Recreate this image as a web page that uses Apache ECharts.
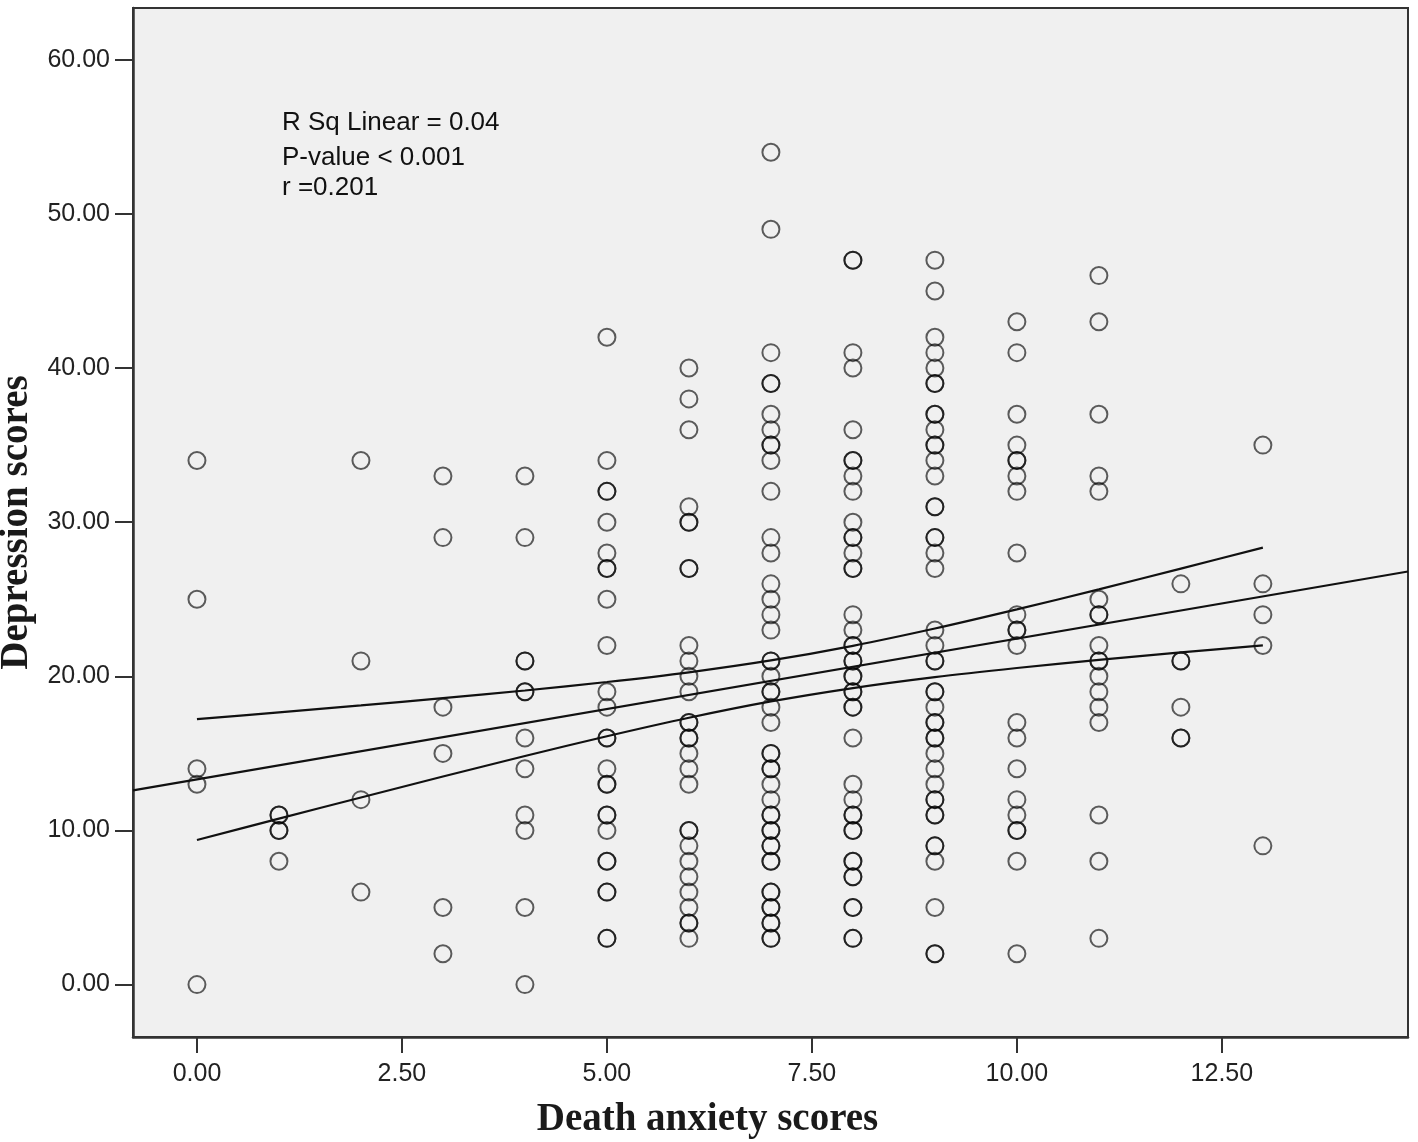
<!DOCTYPE html>
<html>
<head>
<meta charset="utf-8">
<title>Death anxiety vs depression</title>
<script src="https://cdn.jsdelivr.net/npm/echarts@6/dist/echarts.min.js"></script>
<style>
  html, body { margin: 0; padding: 0; background: #fff; }
  #chart { width: 1418px; height: 1142px; }
</style>
</head>
<body>
<div id="chart"></div>
<script>
// depression scores, one list per death anxiety score (duplicates = overlapping circles)
var dep0 = [34, 25, 14, 13, 0];
var dep1 = [11, 11, 10, 10, 8];
var dep2 = [34, 21, 12, 6];
var dep3 = [33, 29, 18, 15, 5, 2];
var dep4 = [33, 29, 21, 21, 19, 19, 16, 14, 11, 10, 5, 0];
var dep5 = [42, 34, 32, 32, 30, 28, 27, 27, 25, 22, 19, 18, 16, 16, 14, 13, 13, 11, 11, 10, 8, 8, 6, 6, 3, 3];
var dep6 = [40, 38, 36, 31, 30, 30, 27, 27, 22, 21, 20, 19, 17, 17, 16, 16, 15, 14, 13, 10, 10, 9, 8, 7, 6, 5, 4, 4, 3];
var dep7 = [54, 49, 41, 39, 39, 37, 36, 35, 35, 34, 32, 29, 28, 26, 25, 24, 23, 21, 21, 20, 19, 19, 18, 17,
            15, 15, 14, 14, 13, 12, 11, 11, 10, 10, 9, 9, 8, 8, 6, 6, 5, 5, 4, 4, 3, 3];
var dep8 = [47, 47, 41, 40, 36, 34, 34, 33, 32, 30, 29, 29, 28, 27, 27, 24, 23, 22, 22, 21, 21, 20, 20,
            19, 19, 18, 18, 16, 13, 12, 11, 11, 10, 10, 8, 8, 7, 7, 5, 5, 3, 3];
var dep9 = [47, 45, 42, 41, 40, 39, 39, 37, 37, 36, 35, 35, 34, 33, 31, 31, 29, 29, 28, 27, 23, 22, 21, 21,
            19, 19, 18, 17, 17, 16, 16, 15, 14, 13, 12, 12, 11, 11, 9, 9, 8, 5, 2, 2];
var dep10 = [43, 41, 37, 35, 34, 34, 33, 32, 28, 24, 23, 23, 22, 17, 16, 14, 12, 11, 10, 10, 8, 2];
var dep11 = [46, 43, 37, 33, 32, 25, 24, 24, 22, 21, 21, 20, 19, 18, 17, 11, 8, 3];
var dep12 = [26, 21, 21, 18, 16, 16];
var dep13 = [35, 26, 24, 22, 9];

var anxietyScores = [0, 1, 2, 3, 4, 5, 6, 7, 8, 9, 10, 11, 12, 13];
var depLists = [dep0, dep1, dep2, dep3, dep4, dep5, dep6, dep7, dep8, dep9, dep10, dep11, dep12, dep13];

// fitted line (across the whole axis) and 95% CI of the mean
var fitX = [-0.78, 14.77];
var fitY = [12.6, 26.8];
var ciUpper = [17.22, 17.66, 18.11, 18.59, 19.08, 19.63, 20.26, 21.03, 21.98, 23.10, 24.34, 25.64, 26.99, 28.35];
var ciLower = [9.38, 10.77, 12.14, 13.50, 14.83, 16.11, 17.31, 18.37, 19.24, 19.95, 20.54, 21.07, 21.55, 22.01];

var xTicks = [0, 2.5, 5, 7.5, 10, 12.5];
var yTicks = [0, 10, 20, 30, 40, 50, 60];

var points = [];
for (var i = 0; i < anxietyScores.length; i++) {
  for (var j = 0; j < depLists[i].length; j++) {
    points.push([anxietyScores[i], depLists[i][j]]);
  }
}
function pairs(xs, ys) {
  var out = [];
  for (var k = 0; k < xs.length; k++) out.push([xs[k], ys[k]]);
  return out;
}

var myChart = echarts.init(document.getElementById('chart'));
var tickFont = { fontFamily: 'Liberation Sans, Arial', fontSize: 25, color: '#222' };
var noteFont = '26px "Liberation Sans", Arial';

var option = {
  backgroundColor: '#fff',
  animation: false,
  grid: {
    left: 133, right: 10, top: 8, bottom: 105,
    containLabel: false,
    outerBoundsMode: 'none',
    show: true,
    backgroundColor: '#f0f0f0',
    borderColor: '#333',
    borderWidth: 2
  },
  xAxis: {
    type: 'value',
    min: -0.78,
    max: 14.77,
    name: 'Death anxiety scores',
    nameLocation: 'middle',
    nameGap: 63,
    nameTextStyle: {
      fontFamily: 'Liberation Serif, Times New Roman',
      fontWeight: 'bold',
      fontSize: 39,
      color: '#1a1a1a',
      padding: [0, 126, 0, 0]
    },
    axisLine: { show: true, onZero: false, lineStyle: { color: '#333', width: 2.5 } },
    axisTick: { show: true, length: 16, customValues: xTicks, lineStyle: { color: '#333', width: 2 } },
    axisLabel: Object.assign({
      margin: 25,
      customValues: xTicks,
      formatter: function (v) { return v.toFixed(2); }
    }, tickFont),
    splitLine: { show: false }
  },
  yAxis: {
    type: 'value',
    min: -3.4,
    max: 63.36,
    name: 'Depression scores',
    nameLocation: 'middle',
    nameGap: 89,
    nameTextStyle: {
      fontFamily: 'Liberation Serif, Times New Roman',
      fontWeight: 'bold',
      fontSize: 39,
      color: '#1a1a1a'
    },
    axisLine: { show: true, onZero: false, lineStyle: { color: '#333', width: 2.5 } },
    axisTick: { show: true, length: 18, customValues: yTicks, lineStyle: { color: '#333', width: 2 } },
    axisLabel: Object.assign({
      margin: 23,
      customValues: yTicks,
      formatter: function (v) { return v.toFixed(2); }
    }, tickFont),
    splitLine: { show: false }
  },
  graphic: [
    { type: 'text', left: 282, top: 110, style: { text: 'R Sq Linear = 0.04', font: noteFont, fill: '#111' } },
    { type: 'text', left: 282, top: 145, style: { text: 'P-value < 0.001', font: noteFont, fill: '#111' } },
    { type: 'text', left: 282, top: 175, style: { text: 'r =0.201', font: noteFont, fill: '#111' } }
  ],
  series: [
    {
      name: 'scores',
      type: 'scatter',
      symbol: 'circle',
      symbolSize: 17,
      itemStyle: {
        color: 'rgba(0,0,0,0)',
        borderColor: 'rgba(0,0,0,0.78)',
        borderWidth: 2
      },
      data: points
    },
    {
      name: 'fit',
      type: 'line',
      showSymbol: false,
      symbol: 'none',
      lineStyle: { color: '#111', width: 2.2 },
      data: pairs(fitX, fitY)
    },
    {
      name: 'upper',
      type: 'line',
      symbol: 'none',
      smooth: 0.3,
      lineStyle: { color: '#111', width: 2.2 },
      data: pairs(anxietyScores, ciUpper)
    },
    {
      name: 'lower',
      type: 'line',
      symbol: 'none',
      smooth: 0.3,
      lineStyle: { color: '#111', width: 2.2 },
      data: pairs(anxietyScores, ciLower)
    }
  ]
};
myChart.setOption(option);
</script>
</body>
</html>
